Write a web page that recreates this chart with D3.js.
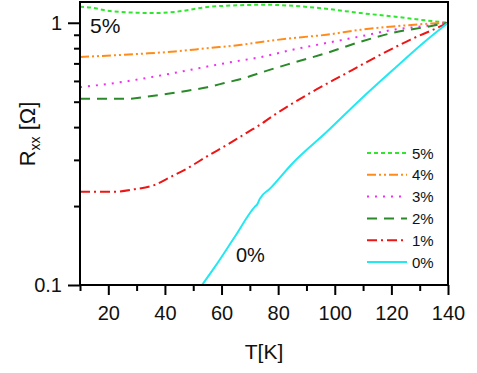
<!DOCTYPE html>
<html>
<head>
<meta charset="utf-8">
<script src="https://cdn.jsdelivr.net/npm/d3@7"></script>
<style>
  html, body { margin: 0; padding: 0; background: #fff; }
  svg { display: block; font-family: "Liberation Sans", Arial, sans-serif; }
</style>
</head>
<body>
<svg id="chart" width="477" height="373"></svg>
<script>
// ---- data ----
const seriesLabels = ["5%", "4%", "3%", "2%", "1%", "0%"];
const seriesColors = ["#2ee62e", "#ff8c1a", "#f030f0", "#2a8a2a", "#ee1515", "#22e8f2"];
const seriesDash   = ["4,3", "9,3,2,3,2,3", "2,6", "10,7", "10,4,2,4", null];

const t5 = [10, 12, 22, 36.5, 43.5, 55, 63.7, 75, 97, 109, 120.6, 132.5, 140];
const r5 = [1.15, 1.148, 1.104, 1.089, 1.10, 1.148, 1.164, 1.171, 1.131, 1.089, 1.057, 1.02, 1.0];

const t4 = [10, 32, 43.5, 55, 67, 74, 85, 97, 109, 120.6, 132.5, 140];
const r4 = [0.74, 0.762, 0.777, 0.80, 0.824, 0.845, 0.874, 0.90, 0.94, 0.968, 0.991, 1.0];

const t3 = [10, 26, 36.5, 46, 55, 64.7, 74, 85, 97, 109, 120.6, 132.5, 140];
const r3 = [0.568, 0.597, 0.624, 0.652, 0.681, 0.712, 0.74, 0.789, 0.837, 0.887, 0.94, 0.974, 1.0];

const t2 = [10, 27, 34, 41, 48, 55, 61, 68, 74, 85, 97, 109, 120.6, 132.5, 140];
const r2 = [0.513, 0.513, 0.523, 0.536, 0.551, 0.568, 0.589, 0.615, 0.646, 0.702, 0.766, 0.846, 0.916, 0.965, 1.0];

const t1 = [10, 22.4, 29.4, 36.5, 41, 48, 55, 62.3, 69.3, 74, 77, 91.2, 103, 115, 126.6, 136, 140];
const r1 = [0.227, 0.227, 0.232, 0.241, 0.255, 0.279, 0.310, 0.344, 0.383, 0.411, 0.433, 0.539, 0.633, 0.744, 0.861, 0.954, 1.0];

const t0 = [53.1, 57.7, 64.75, 71.8, 72.6, 73.5, 77.1, 85.2, 97.2, 108.9, 120.6, 132.6, 140];
const r0 = [0.1, 0.1175, 0.153, 0.199, 0.203, 0.213, 0.233, 0.292, 0.384, 0.508, 0.662, 0.861, 1.0];

const xTickValues = [20, 40, 60, 80, 100, 120, 140];
const xMinorTicks = [10, 30, 50, 70, 90, 110, 130];
const yTickValues = [0.1, 1];
const yTickLabels = ["0.1", "1"];
const yMinorTicks = [0.2, 0.3, 0.4, 0.5, 0.6, 0.7, 0.8, 0.9];

const seriesT = [t5, t4, t3, t2, t1, t0];
const seriesR = [r5, r4, r3, r2, r1, r0];

// ---- layout ----
const svg = d3.select("#chart");
const pL = 80, pR = 448, pT = 2, pB = 285;

const x = d3.scaleLinear().domain([10, 140]).range([pL, pR]);
const y = d3.scaleLog().domain([0.1, 1.2]).range([pB, pT]);

svg.append("defs").append("clipPath").attr("id", "clip")
  .append("rect").attr("x", pL).attr("y", pT).attr("width", pR - pL).attr("height", pB - pT);

// lines
const line = d3.line().x(d => x(d[0])).y(d => y(d[1])).curve(d3.curveMonotoneX);
const g = svg.append("g").attr("clip-path", "url(#clip)");
seriesLabels.forEach((lab, i) => {
  const pts = seriesT[i].map((t, j) => [t, seriesR[i][j]]);
  g.append("path")
    .attr("d", line(pts))
    .attr("fill", "none")
    .attr("stroke", seriesColors[i])
    .attr("stroke-width", 2)
    .attr("stroke-dasharray", seriesDash[i])
    .attr("stroke-linecap", "butt");
});

// frame
svg.append("rect").attr("x", pL).attr("y", pT).attr("width", pR - pL).attr("height", pB - pT)
  .attr("fill", "none").attr("stroke", "#000").attr("stroke-width", 2);

// x axis
const xAxis = d3.axisBottom(x).tickValues(xTickValues).tickSize(10).tickPadding(11).tickFormat(d3.format("d"));
const gx = svg.append("g").attr("transform", `translate(0,${pB})`).call(xAxis);
gx.select(".domain").remove();
gx.selectAll(".tick line").attr("stroke-width", 2);
gx.selectAll(".tick text").attr("font-size", 20).attr("fill", "#111").attr("font-family", "Liberation Sans, Arial, sans-serif");
const xMinor = d3.axisBottom(x).tickValues(xMinorTicks).tickSize(6).tickFormat("");
const gxm = svg.append("g").attr("transform", `translate(0,${pB})`).call(xMinor);
gxm.select(".domain").remove();
gxm.selectAll(".tick line").attr("stroke-width", 2);

// y axis
const yAxis = d3.axisLeft(y).tickValues(yTickValues).tickSize(12).tickPadding(6)
  .tickFormat((d, i) => yTickLabels[i]);
const gy = svg.append("g").attr("transform", `translate(${pL},0)`).call(yAxis);
gy.select(".domain").remove();
gy.selectAll(".tick line").attr("stroke-width", 2);
gy.selectAll(".tick text").attr("font-size", 20).attr("fill", "#111").attr("font-family", "Liberation Sans, Arial, sans-serif");
const yMinor = d3.axisLeft(y).tickValues(yMinorTicks).tickSize(6).tickFormat("");
const gym = svg.append("g").attr("transform", `translate(${pL},0)`).call(yMinor);
gym.select(".domain").remove();
gym.selectAll(".tick line").attr("stroke-width", 2);

// axis titles
svg.append("text").attr("x", (pL + pR) / 2).attr("y", 359).attr("text-anchor", "middle")
  .attr("font-size", 21).attr("fill", "#111").text("T[K]");

const yt = svg.append("text").attr("transform", "translate(35,134) rotate(-90)")
  .attr("text-anchor", "middle").attr("font-size", 22).attr("fill", "#111");
yt.append("tspan").text("R");
yt.append("tspan").attr("font-size", 14).attr("dy", 5).text("xx");
yt.append("tspan").attr("dy", -5).text(" [Ω]");

// annotations
svg.append("text").attr("x", 90).attr("y", 33).attr("font-size", 21).attr("fill", "#111").text(seriesLabels[0]);
svg.append("text").attr("x", 236).attr("y", 262).attr("font-size", 20).attr("fill", "#111").text(seriesLabels[5]);

// legend
const legY0 = 153, legDy = 21.8;
seriesLabels.forEach((lab, i) => {
  const yy = legY0 + i * legDy;
  svg.append("line").attr("x1", 367).attr("x2", 407).attr("y1", yy).attr("y2", yy)
    .attr("stroke", seriesColors[i]).attr("stroke-width", 2)
    .attr("stroke-dasharray", seriesDash[i]);
  svg.append("text").attr("x", 412).attr("y", yy + 5.5).attr("font-size", 15).attr("fill", "#111").text(lab);
});
</script>
</body>
</html>
